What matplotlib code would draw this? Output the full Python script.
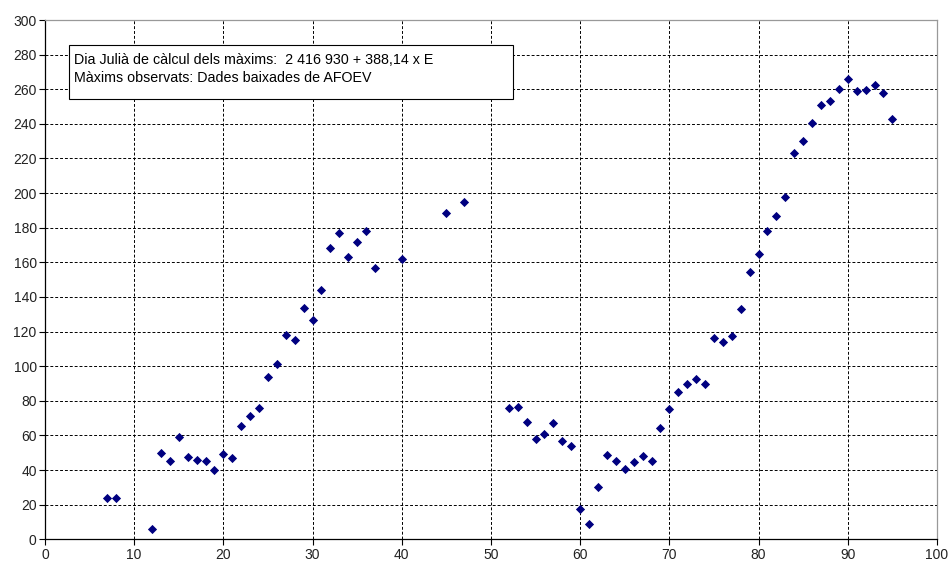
import matplotlib.pyplot as plt
from matplotlib.patches import Rectangle

plt.rcParams['font.family'] = ['Liberation Sans', 'DejaVu Sans']

# epoch E and observed O-C offset (days)
epoch = [7, 8, 12, 13, 14, 15, 16, 17, 18, 19, 20, 21, 22, 23, 24, 25, 26, 27, 28,
         29, 30, 31, 32, 33, 34, 35, 36, 37, 40, 45, 47,
         52, 53, 54, 55, 56, 57, 58, 59, 60, 61, 62, 63, 64, 65, 66, 67, 68, 69,
         70, 71, 72, 73, 74, 75, 76, 77, 78, 79, 80, 81, 82, 83, 84, 85, 86, 87,
         88, 89, 90, 91, 92, 93, 94, 95]
days = [24, 24, 6, 50, 45, 59, 47.5, 46, 45, 40, 49, 47, 65.5, 71, 76, 93.5, 101, 118, 115,
        133.5, 126.5, 144, 168.5, 177, 163, 172, 178, 157, 162, 188.5, 195,
        75.6, 76.6, 68, 58, 61, 67, 57, 54, 17.5, 9, 30, 48.5, 45.5, 40.5, 44.5, 48, 45, 64.5,
        75, 85, 89.6, 92.5, 89.6, 116.5, 114, 117.7, 133, 154.7, 164.7, 178, 187, 198,
        223, 230, 240.6, 251, 253, 260, 265.7, 259, 259.3, 262.6, 257.6, 243]

info_lines = ['Dia Julià de càlcul dels màxims:  2 416 930 + 388,14 x E',
              'Màxims observats: Dades baixades de AFOEV']

fig = plt.figure(figsize=(9.49, 5.64), dpi=100)
ax = fig.add_axes([0.0474, 0.0438, 0.9399, 0.9207])

ax.scatter(epoch, days, marker='D', s=22, color='#000080', linewidths=0, zorder=3)

ax.set_xlim(0, 100)
ax.set_ylim(0, 300)
ax.set_xticks(range(0, 101, 10))
ax.set_yticks(range(0, 301, 20))
ax.grid(True, color='black', linestyle=(0, (3, 2)), linewidth=0.7)
ax.tick_params(direction='out', length=4, width=0.8, labelsize=10, pad=2,
               labelcolor='#222222')

for side in ['left', 'bottom']:
    ax.spines[side].set_color('black')
    ax.spines[side].set_linewidth(0.9)
for side in ['top', 'right']:
    ax.spines[side].set_color('#999999')
    ax.spines[side].set_linewidth(0.9)

ax.add_patch(Rectangle((2.7, 254.5), 49.8, 31.2, facecolor='white',
                       edgecolor='black', linewidth=0.8, zorder=4))
ax.text(3.2, 277, info_lines[0], fontsize=10.3, va='center', zorder=5)
ax.text(3.2, 266.5, info_lines[1], fontsize=10.3, va='center', zorder=5)

plt.savefig('out.png', dpi=100)
